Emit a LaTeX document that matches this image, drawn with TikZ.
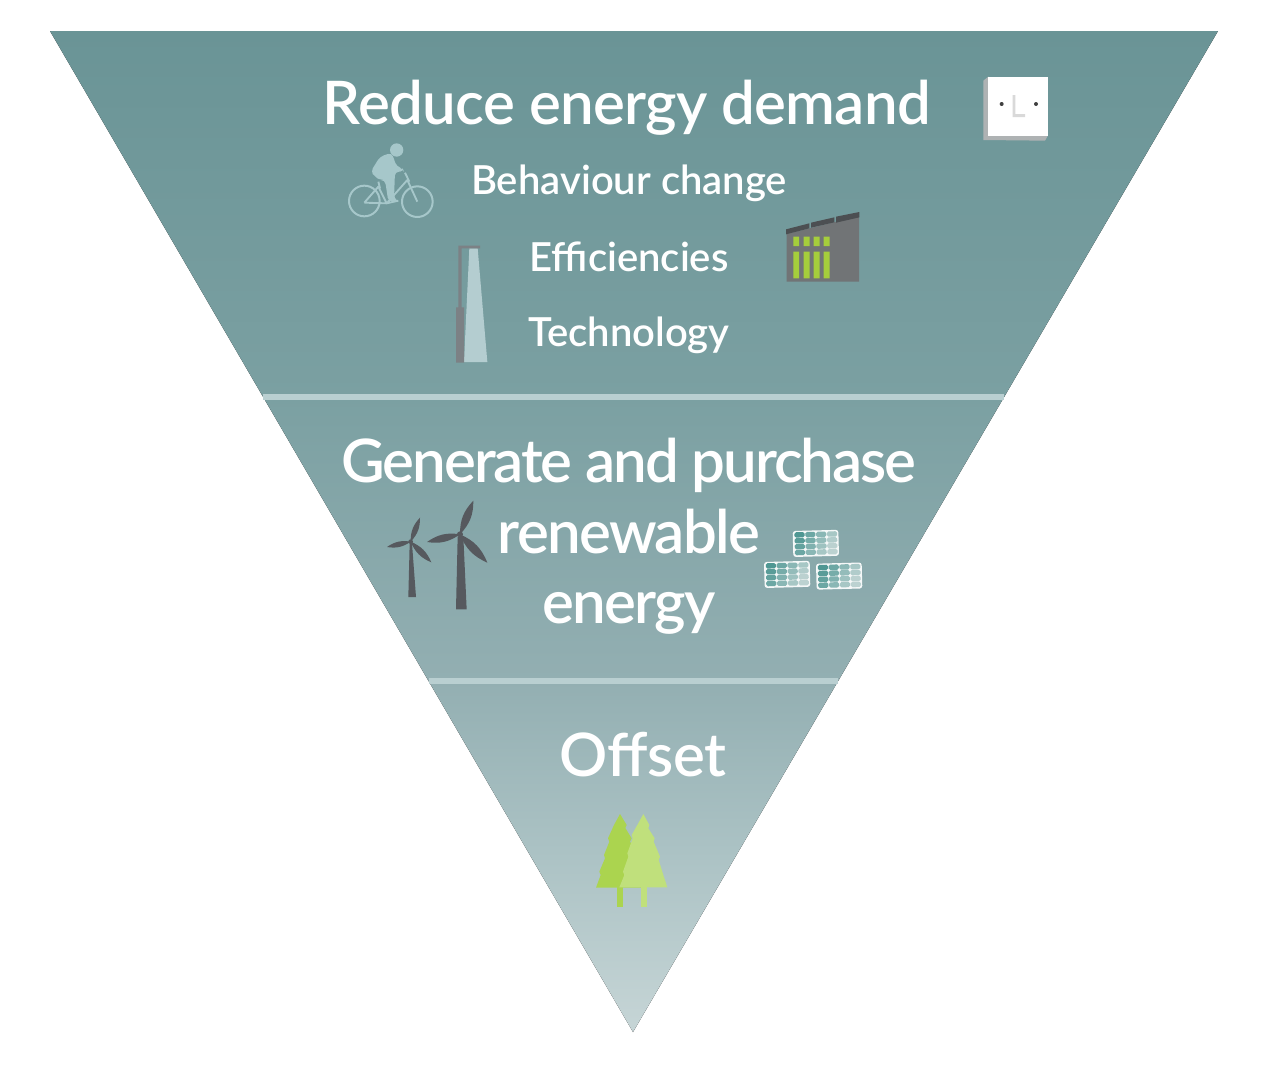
\documentclass[tikz,border=0pt]{standalone}
\usepackage{fontspec}
\setmainfont{Lato Semibold}
\definecolor{gA}{HTML}{6A9496}
\definecolor{gB}{HTML}{7BA0A2}
\definecolor{gC}{HTML}{93AFB2}
\definecolor{gD}{HTML}{ABC2C4}
\definecolor{gE}{HTML}{C6D5D6}
\pgfdeclareverticalshading{trigrad}{100bp}{
 color(0bp)=(gE); color(25bp)=(gE); color(34.1bp)=(gD); color(42.5bp)=(gC); color(56.7bp)=(gB); color(75bp)=(gA); color(100bp)=(gA)}
\definecolor{bandc}{HTML}{B9CFD1}
\definecolor{bikec}{HTML}{A6C7CA}
\definecolor{greyA}{HTML}{7C8185}
\definecolor{greyB}{HTML}{717476}
\definecolor{greyC}{HTML}{4C4F52}
\definecolor{beam}{HTML}{B4CDD0}
\definecolor{leafA}{HTML}{A5CE3C}
\definecolor{treeA}{HTML}{ABD44F}
\definecolor{treeB}{HTML}{C0E07C}
\definecolor{turb}{HTML}{56595E}
\definecolor{plateside}{HTML}{AEB2B3}
\definecolor{cellA}{HTML}{4F9793}
\definecolor{cellB}{HTML}{BCD2D1}
\tikzset{
 lbl/.style={anchor=base,text=white,inner sep=0pt,outer sep=0pt},
 band/.style={bandc,line width=4.5pt},
 blade/.style={fill=turb,draw=none},
}
\newcommand{\myblade}[4]{\fill[blade] (#1,#2) to[bend left=22] (#3,#4) to[bend left=22] (#1,#2);}
\newcommand{\mypanel}[3]{%
 \begin{scope}[shift={(#1,#2)},rotate=#3]
  \fill[white!85!cellB,rounded corners=2pt] (0,0) rectangle (137,78);
  \foreach \c in {0,1,2,3}{
   \foreach \r in {0,1,2,3}{
    \pgfmathsetmacro{\cx}{5+\c*32.5}
    \pgfmathsetmacro{\cy}{4+\r*17.7}
    \pgfmathtruncatemacro{\m}{min(100,\c*27+\r*9)}
    \fill[cellB!\m!cellA,rounded corners=1.2pt] (\cx,\cy) rectangle ++(30.5,16);
   }}
 \end{scope}}
\begin{document}
\begin{tikzpicture}[x=0.75pt,y=-0.75pt]
\useasboundingbox (0,0) rectangle (1272,1078);
\fill[white] (0,0) rectangle (1272,1078);
\fill[shading=trigrad] (50,31) -- (1218,31) -- (633,1032) -- cycle;
\draw[band] (263,397) -- (1004,397);
\draw[band] (429,681) -- (838,681);

\node[lbl,font=\fontsize{45pt}{45pt}\selectfont\addfontfeature{LetterSpace=-1.2}] (t1) at (627,124) {Reduce energy demand};
\node[lbl,font=\fontsize{30pt}{30pt}\selectfont] (t2) at (629,194) {Behaviour change};
\node[lbl,font=\fontsize{30pt}{30pt}\selectfont] (t3) at (629,271) {Efficiencies};
\node[lbl,font=\fontsize{30pt}{30pt}\selectfont] (t4) at (629,346) {Technology};
\node[lbl,font=\fontsize{45pt}{45pt}\selectfont\addfontfeature{LetterSpace=-3.5}] (t5) at (629,482) {Generate and purchase};
\node[lbl,font=\fontsize{45pt}{45pt}\selectfont\addfontfeature{LetterSpace=-2.8}] (t6) at (629,553) {renewable};
\node[lbl,font=\fontsize{45pt}{45pt}\selectfont\addfontfeature{LetterSpace=-3}] (t7) at (629,623) {energy};
\node[lbl,font=\fontsize{45pt}{45pt}\selectfont\addfontfeature{LetterSpace=-0.8}] (t8) at (643,776) {Offset};

% bicycle and lamp
\begin{scope}[shift={(330,60)},x=0.25pt,y=-0.25pt]
 \draw[bikec,line width=1.5pt] (103,423) circle (46) (262,425) circle (46);
 \draw[bikec,line width=1.4pt,line join=round] (103,428) -- (145,380) -- (170,430) -- (103,428) (170,430) -- (232,360) -- (262,425) (225,338) -- (238,365) (145,365) -- (150,385) (170,430) -- (205,422);
 \fill[bikec] (200,270) circle (20);
 \fill[bikec,rounded corners=3pt] (122,335) -- (150,290) -- (185,278) -- (200,320) -- (218,325) -- (222,335) -- (195,335) -- (192,415) -- (205,425) -- (175,425) -- (165,360) -- (150,360) -- (135,350) -- cycle;
 \fill[beam] (418,565) -- (443,565) -- (472,906) -- (402,906) -- cycle;
 \fill[greyA] (385,560) rectangle (395,745) (378,742) rectangle (402,908) (385,557) rectangle (450,565);
\end{scope}

% switch and factory
\begin{scope}[shift={(760,60)},x=0.25pt,y=-0.25pt]
 \fill[plateside] (670,62) -- (685,50) -- (863,228) -- (855,242) -- (670,240) -- cycle;
 \fill[white] (685,50) rectangle (863,228);
 \fill[black!75] (725,132) circle (6) (828,132) circle (6);
 \fill[black!15] (758,105) -- (766,105) -- (766,162) -- (795,162) -- (795,171) -- (758,171) -- cycle;
 \fill[greyB] (80,522) -- (297,468) -- (297,665) -- (80,665) -- cycle;
 \fill[greyC] (78,508) -- (148,490) -- (148,505) -- (78,523) -- cycle
  (153,488) -- (223,472) -- (223,487) -- (153,503) -- cycle
  (228,470) -- (298,456) -- (298,472) -- (228,488) -- cycle;
 \foreach \a/\b in {100/117,131/149,161/179,191/209}{
  \fill[leafA] (\a,530) rectangle (\b,558) (\a,575) rectangle (\b,655);}
\end{scope}

% wind turbines
\begin{scope}[shift={(370,490)},x=0.25pt,y=-0.25pt]
 \fill[turb] (119,160) -- (126,160) -- (138,321) -- (115,321) -- cycle;
 \myblade{122}{155}{150}{83}
 \myblade{122}{155}{51}{171}
 \myblade{122}{155}{184}{217}
 \fill[turb] (122,155) circle (7);
 \fill[turb] (263,140) -- (280,140) -- (290,358) -- (258,358) -- cycle;
 \myblade{270}{133}{310}{32}
 \myblade{270}{133}{171}{156}
 \myblade{270}{133}{352}{218}
 \fill[turb] (270,133) circle (9);
\end{scope}

% solar panels
\begin{scope}[shift={(750,520)},x=0.25pt,y=-0.25pt]
 \mypanel{128}{33}{1.5}
 \mypanel{42}{126}{1.5}
 \mypanel{198}{131}{1.5}
\end{scope}

% trees
\begin{scope}[shift={(580,800)},x=0.25pt,y=-0.25pt]
 \fill[treeA] (112,262) rectangle (130,320);
 \fill[treeA] (120,42) -- (140,75) -- (136,84) -- (155,115) -- (150,125) -- (170,160) -- (165,170) -- (185,215) -- (190,263) -- (48,263) -- (62,225) -- (58,215) -- (75,175) -- (72,165) -- (88,125) -- (84,115) -- (102,75) -- cycle;
 \fill[treeB] (182,262) rectangle (200,320);
 \fill[treeB] (190,42) -- (208,75) -- (205,85) -- (224,115) -- (221,125) -- (240,170) -- (236,180) -- (250,225) -- (262,262) -- (118,262) -- (133,225) -- (129,215) -- (145,170) -- (142,160) -- (158,115) -- (155,105) -- (172,75) -- cycle;
\end{scope}
\end{tikzpicture}
\end{document}
